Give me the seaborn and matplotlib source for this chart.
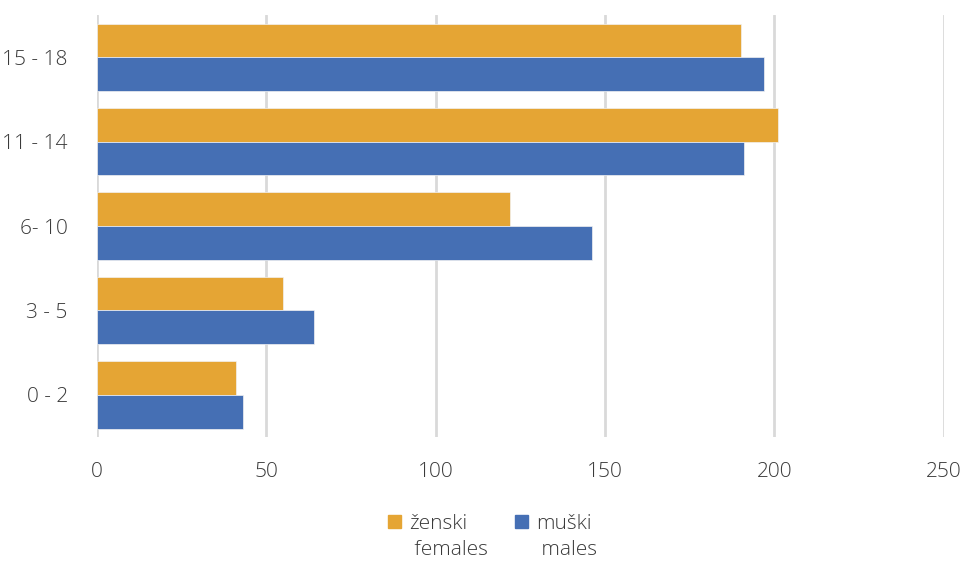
import numpy as np
import pandas as pd
import matplotlib
matplotlib.use("Agg")
import matplotlib.pyplot as plt
import seaborn as sns

# age groups, top to bottom as in the chart
AGE_GROUPS = ["15 - 18", "11 - 14", "6- 10", "3 - 5", "0 - 2"]
FEMALES    = [190, 201, 122, 55, 41]
MALES      = [197, 191, 146, 64, 43]
SERIES     = ["ženski", "muški"]
SERIES_EN  = [" females", " males"]
COLORS     = ["#E5A534", "#456FB4"]
XTICKS     = [0, 50, 100, 150, 200, 250]

df = pd.DataFrame({
    "age":   AGE_GROUPS * 2,
    "value": FEMALES + MALES,
    "sex":   [SERIES[0]] * len(AGE_GROUPS) + [SERIES[1]] * len(AGE_GROUPS),
})

sns.set_style("white")
plt.rcParams["font.family"] = ["Open Sans", "DejaVu Sans"]
plt.rcParams["font.weight"] = "light"
TXT = "#3A3A3A"

fig = plt.figure(figsize=(9.64, 5.61), dpi=100)
ax = fig.add_axes([0.1006, 0.221, 0.8785, 0.752])

sns.barplot(data=df, x="value", y="age", hue="sex", order=AGE_GROUPS,
            hue_order=SERIES, palette=COLORS, orient="h", width=0.8,
            saturation=1, ax=ax, legend=False, zorder=3, linewidth=0.5,
            edgecolor="#F2F2F2")

ax.set_xlim(0, 250)
ax.set_ylim(4.5, -0.5)
ax.set_xticks(XTICKS)
ax.set_xlabel(""); ax.set_ylabel("")
ax.grid(axis="x", color="#D9D9D9", linewidth=2, zorder=0)
ax.grid(axis="y", visible=False)
for s in ax.spines.values():
    s.set_visible(False)
ax.tick_params(axis="both", length=0, labelsize=15, labelcolor=TXT)
ax.tick_params(axis="x", pad=18)
ax.tick_params(axis="y", pad=21)

# legend: first line carries the swatch, second line (English) sits below it
handles, labels = [], []
for c, lab, en in zip(COLORS, SERIES, SERIES_EN):
    handles += [plt.Rectangle((0, 0), 1, 1, color=c),
                plt.Rectangle((0, 0), 1, 1, alpha=0)]
    labels += [lab, en]
fig.legend(handles, labels, loc="center", bbox_to_anchor=(0.511, 0.043),
           ncol=2, frameon=False, fontsize=15, labelcolor=TXT,
           handlelength=0.6, handleheight=0.6, handletextpad=0.4,
           columnspacing=1.3, labelspacing=0.3)

plt.savefig("out.png", dpi=100)
